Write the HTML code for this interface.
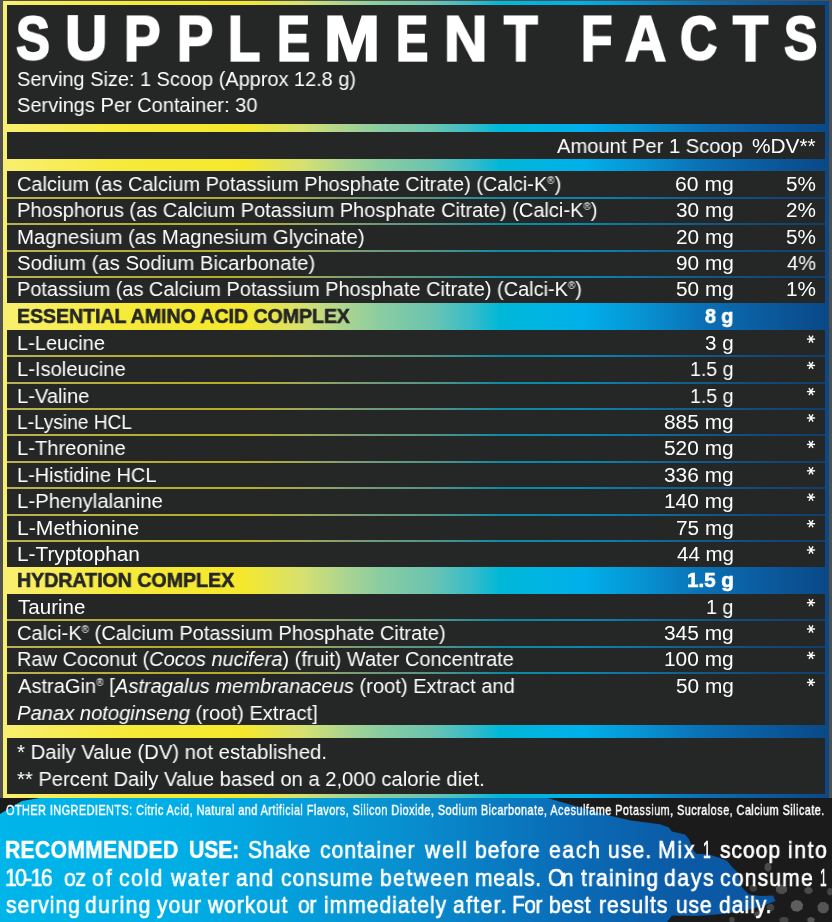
<!DOCTYPE html>
<html><head><meta charset="utf-8"><style>
html,body{margin:0;padding:0;width:832px;height:922px;overflow:hidden;background:#505050;}
body{position:relative;font-family:"Liberation Sans", sans-serif;}
.frame{position:absolute;left:3px;top:1px;width:826px;height:797px;background:linear-gradient(90deg,#f8ef70 0px,#f6ea3a 120px,#f5e82c 240px,#d6e070 300px,#a8d492 345px,#88cca2 380px,#6cc4b0 428px,#38bcc8 468px,#00b8d8 498px,#00b0ea 580px,#0792d2 640px,#0a70b5 700px,#0b5b9f 760px,#0a4886 826px);}
.c{position:absolute;background:#252626;}
.ln{position:absolute;left:7px;width:818px;height:2px;background:rgba(37,38,38,0.3);}
.t{position:absolute;white-space:nowrap;transform-origin:0 0;line-height:normal;will-change:transform;}
sup{font-size:0.5em;vertical-align:0.7em;line-height:0}
.bot{position:absolute;left:0;top:798px;width:832px;height:124px;}
</style></head><body>
<svg class=bot width="832" height="124" viewBox="0 798 832 124">
<defs>
<linearGradient id="bg" gradientUnits="userSpaceOnUse" x1="0" y1="0" x2="832" y2="0">
<stop offset="0" stop-color="#00b5ea"/><stop offset="0.216" stop-color="#00aee6"/><stop offset="0.48" stop-color="#0890d0"/><stop offset="0.673" stop-color="#0a6db8"/><stop offset="0.817" stop-color="#0b5aa5"/><stop offset="1" stop-color="#0b52a0"/>
</linearGradient>
</defs>
<rect x="0" y="798" width="832" height="124" fill="#1c1b1b"/>
<g><polygon fill="#4a4a4a" points="771.1,869.6 768.9,871.7 766.1,871.1 764.5,868.3 764.9,864.8 767.1,862.7 769.9,863.3 771.5,866.1"/><polygon fill="#4d4d4d" points="786.9,891.4 783.5,893.9 778.9,893.7 775.8,890.9 776.1,887.0 779.5,884.5 784.1,884.7 787.2,887.5"/><polygon fill="#5e5e5e" points="802.3,909.0 798.2,911.7 793.3,910.9 790.5,907.1 791.3,902.6 795.4,899.9 800.3,900.7 803.1,904.5"/><polygon fill="#555555" points="828.9,909.4 826.0,912.9 821.4,913.3 817.9,910.4 817.5,905.8 820.4,902.3 825.0,901.9 828.5,904.8"/><polygon fill="#4a4a4a" points="812.2,892.5 809.3,893.9 806.0,893.4 804.1,891.1 804.8,888.5 807.7,887.1 811.0,887.6 812.9,889.9"/><polygon fill="#444444" points="774.0,909.5 771.6,911.4 768.6,911.1 766.7,908.7 767.0,905.7 769.4,903.8 772.4,904.1 774.3,906.5"/><polygon fill="#444444" points="788.6,921.1 785.9,922.7 782.0,922.7 779.4,921.0 779.4,918.7 782.1,917.1 786.0,917.1 788.6,918.8"/><polygon fill="#555555" points="814.4,921.5 811.9,922.8 808.9,922.4 807.1,920.6 807.6,918.3 810.1,917.0 813.1,917.4 814.9,919.2"/><polygon fill="#3c3c3c" points="756.8,889.9 754.5,891.8 751.4,891.5 749.5,889.2 749.8,886.1 752.1,884.2 755.2,884.5 757.1,886.8"/><polygon fill="#444444" points="832.7,893.4 831.0,895.5 828.7,895.3 827.2,893.1 827.3,890.0 829.0,887.9 831.3,888.1 832.8,890.3"/><polygon fill="#444444" points="734.8,920.7 733.3,922.4 731.0,922.5 729.3,921.0 729.2,918.7 730.7,917.0 733.0,916.9 734.7,918.4"/><polygon fill="#4a4a4a" points="760.9,915.7 759.2,917.7 756.5,917.9 754.5,916.2 754.3,913.5 756.0,911.5 758.7,911.3 760.7,913.0"/></g>
<path fill="url(#bg)" d="M40 798 L546 797.6 L575 806 L609 815.6 L631 820.4 L660 824.2 L668.4 827.2 L672 831.4 L685 834.4 L689 839.2 L692.5 848.8 L696 853.7 L708 854.3 L720 857.9 L727.3 860.9 L732 866.9 L737 871.7 L741.7 887.3 L749 894.5 L760 896 L773 895.5 L775.5 901 L762.7 906 L742.3 911 L722 914 L696.4 916 L672 915.5 L667 922 L0 922 L0 814 L22 801 Z"/>
</svg>
<div class=frame></div>
<div class=c style='left:7px;top:5.00px;width:818px;height:119.00px'></div><div class=c style='left:7px;top:132.00px;width:818px;height:27.00px'></div><div class=c style='left:7px;top:171.00px;width:818px;height:26.00px'></div><div class=c style='left:7px;top:199.00px;width:818px;height:24.00px'></div><div class=c style='left:7px;top:225.00px;width:818px;height:25.00px'></div><div class=c style='left:7px;top:252.00px;width:818px;height:24.00px'></div><div class=c style='left:7px;top:278.00px;width:818px;height:25.00px'></div><div class=c style='left:7px;top:330.00px;width:818px;height:25.00px'></div><div class=c style='left:7px;top:357.00px;width:818px;height:25.00px'></div><div class=c style='left:7px;top:384.00px;width:818px;height:24.00px'></div><div class=c style='left:7px;top:410.00px;width:818px;height:24.00px'></div><div class=c style='left:7px;top:436.00px;width:818px;height:25.00px'></div><div class=c style='left:7px;top:463.00px;width:818px;height:24.00px'></div><div class=c style='left:7px;top:489.00px;width:818px;height:25.00px'></div><div class=c style='left:7px;top:516.00px;width:818px;height:24.00px'></div><div class=c style='left:7px;top:542.00px;width:818px;height:25.00px'></div><div class=c style='left:7px;top:594.00px;width:818px;height:25.00px'></div><div class=c style='left:7px;top:621.00px;width:818px;height:25.00px'></div><div class=c style='left:7px;top:648.00px;width:818px;height:24.00px'></div><div class=c style='left:7px;top:674.00px;width:818px;height:51.00px'></div><div class=c style='left:7px;top:738.00px;width:818px;height:56.00px'></div>
<div class=ln style='top:197px'></div><div class=ln style='top:223px'></div><div class=ln style='top:250px'></div><div class=ln style='top:276px'></div><div class=ln style='top:355px'></div><div class=ln style='top:382px'></div><div class=ln style='top:408px'></div><div class=ln style='top:434px'></div><div class=ln style='top:461px'></div><div class=ln style='top:487px'></div><div class=ln style='top:514px'></div><div class=ln style='top:540px'></div><div class=ln style='top:619px'></div><div class=ln style='top:646px'></div><div class=ln style='top:672px'></div>
<div class=t style='left:16.63px;top:67.14px;font:normal normal 20.5px "Liberation Sans", sans-serif;color:#fff;transform:scaleX(0.9723);'>Serving Size: 1 Scoop (Approx 12.8 g)</div><div class=t style='left:16.62px;top:93.14px;font:normal normal 20.5px "Liberation Sans", sans-serif;color:#fff;transform:scaleX(0.9770);'>Servings Per Container: 30</div><div class=t style='left:556.80px;top:133.84px;font:normal normal 20.5px "Liberation Sans", sans-serif;color:#fff;transform:scaleX(0.9824);'>Amount Per 1 Scoop</div><div class=t style='left:752.38px;top:133.84px;font:normal normal 20.5px "Liberation Sans", sans-serif;color:#fff;transform:scaleX(1.0164);'>%DV**</div><div class=t style='left:16.63px;top:172.24px;font:normal normal 20.5px "Liberation Sans", sans-serif;color:#fff;transform:scaleX(0.9736);'>Calcium (as Calcium Potassium Phosphate Citrate) (Calci-K<sup>®</sup>)</div><div class=t style='left:674.57px;top:172.24px;font:normal normal 20.5px "Liberation Sans", sans-serif;color:#fff;transform:scaleX(1.0327);'>60 mg</div><div class=t style='left:785.99px;top:172.24px;font:normal normal 20.5px "Liberation Sans", sans-serif;color:#fff;transform:scaleX(1.0107);'>5%</div><div class=t style='left:16.62px;top:198.44px;font:normal normal 20.5px "Liberation Sans", sans-serif;color:#fff;transform:scaleX(0.9767);'>Phosphorus (as Calcium Potassium Phosphate Citrate) (Calci-K<sup>®</sup>)</div><div class=t style='left:675.59px;top:198.44px;font:normal normal 20.5px "Liberation Sans", sans-serif;color:#fff;transform:scaleX(1.0145);'>30 mg</div><div class=t style='left:785.99px;top:198.44px;font:normal normal 20.5px "Liberation Sans", sans-serif;color:#fff;transform:scaleX(1.0107);'>2%</div><div class=t style='left:16.61px;top:224.74px;font:normal normal 20.5px "Liberation Sans", sans-serif;color:#fff;transform:scaleX(0.9937);'>Magnesium (as Magnesium Glycinate)</div><div class=t style='left:675.59px;top:224.74px;font:normal normal 20.5px "Liberation Sans", sans-serif;color:#fff;transform:scaleX(1.0145);'>20 mg</div><div class=t style='left:785.99px;top:224.74px;font:normal normal 20.5px "Liberation Sans", sans-serif;color:#fff;transform:scaleX(1.0107);'>5%</div><div class=t style='left:16.61px;top:251.14px;font:normal normal 20.5px "Liberation Sans", sans-serif;color:#fff;transform:scaleX(0.9913);'>Sodium (as Sodium Bicarbonate)</div><div class=t style='left:675.59px;top:251.14px;font:normal normal 20.5px "Liberation Sans", sans-serif;color:#fff;transform:scaleX(1.0145);'>90 mg</div><div class=t style='left:787.00px;top:251.14px;font:normal normal 20.5px "Liberation Sans", sans-serif;color:#fff;transform:scaleX(0.9759);'>4%</div><div class=t style='left:16.63px;top:277.44px;font:normal normal 20.5px "Liberation Sans", sans-serif;color:#fff;transform:scaleX(0.9730);'>Potassium (as Calcium Potassium Phosphate Citrate) (Calci-K<sup>®</sup>)</div><div class=t style='left:675.59px;top:277.44px;font:normal normal 20.5px "Liberation Sans", sans-serif;color:#fff;transform:scaleX(1.0145);'>50 mg</div><div class=t style='left:785.99px;top:277.44px;font:normal normal 20.5px "Liberation Sans", sans-serif;color:#fff;transform:scaleX(1.0107);'>1%</div><div class=t style='left:16.95px;top:304.24px;font:normal bold 20.5px "Liberation Sans", sans-serif;color:#252626;-webkit-text-stroke:0.6px #252626;transform:scaleX(0.9510);'>ESSENTIAL AMINO ACID COMPLEX</div><div class=t style='left:704.80px;top:304.24px;font:normal bold 20.5px "Liberation Sans", sans-serif;color:#fff;-webkit-text-stroke:0.6px #fff;transform:scaleX(0.9586);'>8 g</div><div class=t style='left:16.62px;top:331.04px;font:normal normal 20.5px "Liberation Sans", sans-serif;color:#fff;transform:scaleX(0.9761);'>L-Leucine</div><div class=t style='left:705.30px;top:331.04px;font:normal normal 20.5px "Liberation Sans", sans-serif;color:#fff;transform:scaleX(1.0038);'>3 g</div><div class=t style='left:16.62px;top:357.34px;font:normal normal 20.5px "Liberation Sans", sans-serif;color:#fff;transform:scaleX(0.9826);'>L-Isoleucine</div><div class=t style='left:690.45px;top:357.34px;font:normal normal 20.5px "Liberation Sans", sans-serif;color:#fff;transform:scaleX(0.9535);'>1.5 g</div><div class=t style='left:16.62px;top:383.54px;font:normal normal 20.5px "Liberation Sans", sans-serif;color:#fff;transform:scaleX(0.9819);'>L-Valine</div><div class=t style='left:690.45px;top:383.54px;font:normal normal 20.5px "Liberation Sans", sans-serif;color:#fff;transform:scaleX(0.9535);'>1.5 g</div><div class=t style='left:16.67px;top:409.94px;font:normal normal 20.5px "Liberation Sans", sans-serif;color:#fff;transform:scaleX(0.9311);'>L-Lysine HCL</div><div class=t style='left:664.18px;top:409.94px;font:normal normal 20.5px "Liberation Sans", sans-serif;color:#fff;transform:scaleX(1.0182);'>885 mg</div><div class=t style='left:16.62px;top:436.34px;font:normal normal 20.5px "Liberation Sans", sans-serif;color:#fff;transform:scaleX(0.9826);'>L-Threonine</div><div class=t style='left:664.18px;top:436.34px;font:normal normal 20.5px "Liberation Sans", sans-serif;color:#fff;transform:scaleX(1.0182);'>520 mg</div><div class=t style='left:16.63px;top:462.74px;font:normal normal 20.5px "Liberation Sans", sans-serif;color:#fff;transform:scaleX(0.9711);'>L-Histidine HCL</div><div class=t style='left:664.18px;top:462.74px;font:normal normal 20.5px "Liberation Sans", sans-serif;color:#fff;transform:scaleX(1.0182);'>336 mg</div><div class=t style='left:16.61px;top:489.14px;font:normal normal 20.5px "Liberation Sans", sans-serif;color:#fff;transform:scaleX(0.9924);'>L-Phenylalanine</div><div class=t style='left:664.18px;top:489.14px;font:normal normal 20.5px "Liberation Sans", sans-serif;color:#fff;transform:scaleX(1.0182);'>140 mg</div><div class=t style='left:16.57px;top:515.64px;font:normal normal 20.5px "Liberation Sans", sans-serif;color:#fff;transform:scaleX(1.0316);'>L-Methionine</div><div class=t style='left:675.59px;top:515.64px;font:normal normal 20.5px "Liberation Sans", sans-serif;color:#fff;transform:scaleX(1.0145);'>75 mg</div><div class=t style='left:16.59px;top:541.94px;font:normal normal 20.5px "Liberation Sans", sans-serif;color:#fff;transform:scaleX(1.0143);'>L-Tryptophan</div><div class=t style='left:676.60px;top:541.94px;font:normal normal 20.5px "Liberation Sans", sans-serif;color:#fff;transform:scaleX(0.9964);'>44 mg</div><div class=t style='left:16.94px;top:568.34px;font:normal bold 20.5px "Liberation Sans", sans-serif;color:#252626;-webkit-text-stroke:0.6px #252626;transform:scaleX(0.9551);'>HYDRATION COMPLEX</div><div class=t style='left:686.50px;top:568.34px;font:normal bold 20.5px "Liberation Sans", sans-serif;color:#fff;-webkit-text-stroke:0.6px #fff;transform:scaleX(1.0022);'>1.5 g</div><div class=t style='left:17.60px;top:594.64px;font:normal normal 20.5px "Liberation Sans", sans-serif;color:#fff;transform:scaleX(1.0030);'>Taurine</div><div class=t style='left:706.33px;top:594.64px;font:normal normal 20.5px "Liberation Sans", sans-serif;color:#fff;transform:scaleX(0.9654);'>1 g</div><div class=t style='left:16.62px;top:620.94px;font:normal normal 20.5px "Liberation Sans", sans-serif;color:#fff;transform:scaleX(0.9780);'>Calci-K<sup>®</sup> (Calcium Potassium Phosphate Citrate)</div><div class=t style='left:664.18px;top:620.94px;font:normal normal 20.5px "Liberation Sans", sans-serif;color:#fff;transform:scaleX(1.0182);'>345 mg</div><div class=t style='left:16.63px;top:647.34px;font:normal normal 20.5px "Liberation Sans", sans-serif;color:#fff;transform:scaleX(0.9748);'>Raw Coconut (<i>Cocos nucifera</i>) (fruit) Water Concentrate</div><div class=t style='left:664.18px;top:647.34px;font:normal normal 20.5px "Liberation Sans", sans-serif;color:#fff;transform:scaleX(1.0182);'>100 mg</div><div class=t style='left:17.60px;top:674.34px;font:normal normal 20.5px "Liberation Sans", sans-serif;color:#fff;transform:scaleX(0.9806);'>AstraGin<sup>®</sup> [<i>Astragalus membranaceus</i> (root) Extract and</div><div class=t style='left:675.59px;top:674.34px;font:normal normal 20.5px "Liberation Sans", sans-serif;color:#fff;transform:scaleX(1.0145);'>50 mg</div><div class=t style='left:16.62px;top:701.14px;font:normal normal 20.5px "Liberation Sans", sans-serif;color:#fff;transform:scaleX(0.9848);'><i>Panax notoginseng</i> (root) Extract]</div><div class=t style='left:17.40px;top:740.14px;font:normal normal 20.5px "Liberation Sans", sans-serif;color:#fff;transform:scaleX(0.9907);'>* Daily Value (DV) not established.</div><div class=t style='left:17.40px;top:766.74px;font:normal normal 20.5px "Liberation Sans", sans-serif;color:#fff;transform:scaleX(0.9848);'>** Percent Daily Value based on a 2,000 calorie diet.</div><div class=t style='left:15.94px;top:2.06px;font:normal bold 67px "Liberation Sans", sans-serif;color:#fff;-webkit-text-stroke:2.2px #fff;transform:scale(0.7571,0.9240);'>S</div><div class=t style='left:64.87px;top:0.86px;font:normal bold 67px "Liberation Sans", sans-serif;color:#fff;-webkit-text-stroke:2.2px #fff;transform:scale(0.8767,0.9429);'>U</div><div class=t style='left:124.25px;top:0.56px;font:normal bold 67px "Liberation Sans", sans-serif;color:#fff;-webkit-text-stroke:2.2px #fff;transform:scale(0.8171,0.9625);'>P</div><div class=t style='left:177.08px;top:0.56px;font:normal bold 67px "Liberation Sans", sans-serif;color:#fff;-webkit-text-stroke:2.2px #fff;transform:scale(0.8073,0.9625);'>P</div><div class=t style='left:228.23px;top:0.56px;font:normal bold 67px "Liberation Sans", sans-serif;color:#fff;-webkit-text-stroke:2.2px #fff;transform:scale(0.7892,0.9625);'>L</div><div class=t style='left:276.59px;top:0.56px;font:normal bold 67px "Liberation Sans", sans-serif;color:#fff;-webkit-text-stroke:2.2px #fff;transform:scale(0.7375,0.9625);'>E</div><div class=t style='left:323.69px;top:0.56px;font:normal bold 67px "Liberation Sans", sans-serif;color:#fff;-webkit-text-stroke:2.2px #fff;transform:scale(1.0040,0.9625);'>M</div><div class=t style='left:395.63px;top:0.56px;font:normal bold 67px "Liberation Sans", sans-serif;color:#fff;-webkit-text-stroke:2.2px #fff;transform:scale(0.7225,0.9625);'>E</div><div class=t style='left:444.01px;top:0.56px;font:normal bold 67px "Liberation Sans", sans-serif;color:#fff;-webkit-text-stroke:2.2px #fff;transform:scale(0.8976,0.9625);'>N</div><div class=t style='left:503.72px;top:0.56px;font:normal bold 67px "Liberation Sans", sans-serif;color:#fff;-webkit-text-stroke:2.2px #fff;transform:scale(0.8209,0.9625);'>T</div><div class=t style='left:581.30px;top:0.56px;font:normal bold 67px "Liberation Sans", sans-serif;color:#fff;-webkit-text-stroke:2.2px #fff;transform:scale(0.7676,0.9625);'>F</div><div class=t style='left:624.60px;top:0.56px;font:normal bold 67px "Liberation Sans", sans-serif;color:#fff;-webkit-text-stroke:2.2px #fff;transform:scale(0.8500,0.9625);'>A</div><div class=t style='left:679.83px;top:2.06px;font:normal bold 67px "Liberation Sans", sans-serif;color:#fff;-webkit-text-stroke:2.2px #fff;transform:scale(0.7702,0.9240);'>C</div><div class=t style='left:732.96px;top:0.56px;font:normal bold 67px "Liberation Sans", sans-serif;color:#fff;-webkit-text-stroke:2.2px #fff;transform:scale(0.8581,0.9625);'>T</div><div class=t style='left:783.55px;top:2.06px;font:normal bold 67px "Liberation Sans", sans-serif;color:#fff;-webkit-text-stroke:2.2px #fff;transform:scale(0.7476,0.9240);'>S</div><div class=t style='left:5.90px;top:801.86px;font:normal normal 14.5px "Liberation Sans", sans-serif;color:#fff;-webkit-text-stroke:0.45px #fff;letter-spacing:0.612px;transform:scaleX(0.7500);'>OTHER INGREDIENTS: Citric Acid, Natural and Artificial Flavors, Silicon Dioxide, Sodium Bicarbonate, Acesulfame Potassium, Sucralose, Calcium Silicate.</div><div class=t style='left:4.94px;top:836.06px;font:normal bold 24.5px "Liberation Sans", sans-serif;color:#fff;-webkit-text-stroke:0.5px #fff;letter-spacing:0.400px;transform:scaleX(0.8600);'>RECOMMENDED</div><div class=t style='left:188.94px;top:836.06px;font:normal bold 24.5px "Liberation Sans", sans-serif;color:#fff;-webkit-text-stroke:0.5px #fff;letter-spacing:-0.023px;transform:scaleX(0.8600);'>USE:</div><div class=t style='left:248.14px;top:836.06px;font:normal normal 24.5px "Liberation Sans", sans-serif;color:#fff;-webkit-text-stroke:0.7px #fff;letter-spacing:0.733px;transform:scaleX(0.8600);'>Shake</div><div class=t style='left:319.74px;top:836.06px;font:normal normal 24.5px "Liberation Sans", sans-serif;color:#fff;-webkit-text-stroke:0.7px #fff;letter-spacing:1.134px;transform:scaleX(0.8600);'>container</div><div class=t style='left:424.50px;top:836.06px;font:normal normal 24.5px "Liberation Sans", sans-serif;color:#fff;-webkit-text-stroke:0.7px #fff;letter-spacing:2.186px;transform:scaleX(0.8600);'>well</div><div class=t style='left:475.14px;top:836.06px;font:normal normal 24.5px "Liberation Sans", sans-serif;color:#fff;-webkit-text-stroke:0.7px #fff;letter-spacing:1.144px;transform:scaleX(0.8600);'>before</div><div class=t style='left:549.14px;top:836.06px;font:normal normal 24.5px "Liberation Sans", sans-serif;color:#fff;-webkit-text-stroke:0.7px #fff;letter-spacing:1.992px;transform:scaleX(0.8600);'>each</div><div class=t style='left:607.84px;top:836.06px;font:normal normal 24.5px "Liberation Sans", sans-serif;color:#fff;-webkit-text-stroke:0.7px #fff;letter-spacing:1.341px;transform:scaleX(0.8600);'>use.</div><div class=t style='left:657.84px;top:836.06px;font:normal normal 24.5px "Liberation Sans", sans-serif;color:#fff;-webkit-text-stroke:0.7px #fff;letter-spacing:2.140px;transform:scaleX(0.8600);'>Mix</div><div class=t style='left:703.13px;top:836.06px;font:normal normal 24.5px "Liberation Sans", sans-serif;color:#fff;-webkit-text-stroke:0.7px #fff;transform:scaleX(0.5667);'>1</div><div class=t style='left:719.90px;top:836.06px;font:normal normal 24.5px "Liberation Sans", sans-serif;color:#fff;-webkit-text-stroke:0.7px #fff;letter-spacing:1.105px;transform:scaleX(0.8600);'>scoop</div><div class=t style='left:788.14px;top:836.06px;font:normal normal 24.5px "Liberation Sans", sans-serif;color:#fff;-webkit-text-stroke:0.7px #fff;letter-spacing:1.868px;transform:scaleX(0.8600);'>into</div><div class=t style='left:4.94px;top:863.96px;font:normal normal 24.5px "Liberation Sans", sans-serif;color:#fff;-webkit-text-stroke:0.7px #fff;letter-spacing:-1.849px;transform:scaleX(0.8600);'>10-16</div><div class=t style='left:63.50px;top:863.96px;font:normal normal 24.5px "Liberation Sans", sans-serif;color:#fff;-webkit-text-stroke:0.7px #fff;letter-spacing:-0.465px;transform:scaleX(0.8600);'>oz</div><div class=t style='left:92.30px;top:863.96px;font:normal normal 24.5px "Liberation Sans", sans-serif;color:#fff;-webkit-text-stroke:0.7px #fff;letter-spacing:2.488px;transform:scaleX(0.8600);'>of</div><div class=t style='left:119.34px;top:863.96px;font:normal normal 24.5px "Liberation Sans", sans-serif;color:#fff;-webkit-text-stroke:0.7px #fff;letter-spacing:1.829px;transform:scaleX(0.8600);'>cold</div><div class=t style='left:170.60px;top:863.96px;font:normal normal 24.5px "Liberation Sans", sans-serif;color:#fff;-webkit-text-stroke:0.7px #fff;letter-spacing:1.904px;transform:scaleX(0.8600);'>water</div><div class=t style='left:236.04px;top:863.96px;font:normal normal 24.5px "Liberation Sans", sans-serif;color:#fff;-webkit-text-stroke:0.7px #fff;letter-spacing:1.198px;transform:scaleX(0.8600);'>and</div><div class=t style='left:280.74px;top:863.96px;font:normal normal 24.5px "Liberation Sans", sans-serif;color:#fff;-webkit-text-stroke:0.7px #fff;letter-spacing:1.186px;transform:scaleX(0.8600);'>consume</div><div class=t style='left:379.94px;top:863.96px;font:normal normal 24.5px "Liberation Sans", sans-serif;color:#fff;-webkit-text-stroke:0.7px #fff;letter-spacing:1.694px;transform:scaleX(0.8600);'>between</div><div class=t style='left:475.14px;top:863.96px;font:normal normal 24.5px "Liberation Sans", sans-serif;color:#fff;-webkit-text-stroke:0.7px #fff;letter-spacing:0.944px;transform:scaleX(0.8600);'>meals.</div><div class=t style='left:548.14px;top:863.96px;font:normal normal 24.5px "Liberation Sans", sans-serif;color:#fff;-webkit-text-stroke:0.7px #fff;letter-spacing:-3.093px;transform:scaleX(0.8600);'>On</div><div class=t style='left:580.80px;top:863.96px;font:normal normal 24.5px "Liberation Sans", sans-serif;color:#fff;-webkit-text-stroke:0.7px #fff;letter-spacing:1.322px;transform:scaleX(0.8600);'>training</div><div class=t style='left:663.50px;top:863.96px;font:normal normal 24.5px "Liberation Sans", sans-serif;color:#fff;-webkit-text-stroke:0.7px #fff;letter-spacing:1.992px;transform:scaleX(0.8600);'>days</div><div class=t style='left:719.64px;top:863.96px;font:normal normal 24.5px "Liberation Sans", sans-serif;color:#fff;-webkit-text-stroke:0.7px #fff;letter-spacing:1.399px;transform:scaleX(0.8600);'>consume</div><div class=t style='left:820.11px;top:863.96px;font:normal normal 24.5px "Liberation Sans", sans-serif;color:#fff;-webkit-text-stroke:0.7px #fff;transform:scaleX(0.4917);'>1</div><div class=t style='left:5.80px;top:891.36px;font:normal normal 24.5px "Liberation Sans", sans-serif;color:#fff;-webkit-text-stroke:0.7px #fff;letter-spacing:1.147px;transform:scaleX(0.8600);'>serving</div><div class=t style='left:84.60px;top:891.36px;font:normal normal 24.5px "Liberation Sans", sans-serif;color:#fff;-webkit-text-stroke:0.7px #fff;letter-spacing:1.577px;transform:scaleX(0.8600);'>during</div><div class=t style='left:156.70px;top:891.36px;font:normal normal 24.5px "Liberation Sans", sans-serif;color:#fff;-webkit-text-stroke:0.7px #fff;letter-spacing:1.171px;transform:scaleX(0.8600);'>your</div><div class=t style='left:207.70px;top:891.36px;font:normal normal 24.5px "Liberation Sans", sans-serif;color:#fff;-webkit-text-stroke:0.7px #fff;letter-spacing:1.074px;transform:scaleX(0.8600);'>workout</div><div class=t style='left:298.30px;top:891.36px;font:normal normal 24.5px "Liberation Sans", sans-serif;color:#fff;-webkit-text-stroke:0.7px #fff;letter-spacing:-0.256px;transform:scaleX(0.8600);'>or</div><div class=t style='left:324.14px;top:891.36px;font:normal normal 24.5px "Liberation Sans", sans-serif;color:#fff;-webkit-text-stroke:0.7px #fff;letter-spacing:1.140px;transform:scaleX(0.8600);'>immediately</div><div class=t style='left:453.44px;top:891.36px;font:normal normal 24.5px "Liberation Sans", sans-serif;color:#fff;-webkit-text-stroke:0.7px #fff;letter-spacing:1.577px;transform:scaleX(0.8600);'>after.</div><div class=t style='left:511.64px;top:891.36px;font:normal normal 24.5px "Liberation Sans", sans-serif;color:#fff;-webkit-text-stroke:0.7px #fff;letter-spacing:-0.674px;transform:scaleX(0.8600);'>For</div><div class=t style='left:549.14px;top:891.36px;font:normal normal 24.5px "Liberation Sans", sans-serif;color:#fff;-webkit-text-stroke:0.7px #fff;letter-spacing:0.674px;transform:scaleX(0.8600);'>best</div><div class=t style='left:599.44px;top:891.36px;font:normal normal 24.5px "Liberation Sans", sans-serif;color:#fff;-webkit-text-stroke:0.7px #fff;letter-spacing:1.209px;transform:scaleX(0.8600);'>results</div><div class=t style='left:675.94px;top:891.36px;font:normal normal 24.5px "Liberation Sans", sans-serif;color:#fff;-webkit-text-stroke:0.7px #fff;letter-spacing:0.884px;transform:scaleX(0.8600);'>use</div><div class=t style='left:719.00px;top:891.36px;font:normal normal 24.5px "Liberation Sans", sans-serif;color:#fff;-webkit-text-stroke:0.7px #fff;letter-spacing:1.153px;transform:scaleX(0.8600);'>daily.</div>
<svg style="position:absolute;left:0;top:0" width="832" height="922"><line x1="806.90" y1="339.10" x2="815.10" y2="339.10" stroke="#fff" stroke-width="1.4"/><line x1="808.95" y1="335.55" x2="813.05" y2="342.65" stroke="#fff" stroke-width="1.4"/><line x1="813.05" y1="335.55" x2="808.95" y2="342.65" stroke="#fff" stroke-width="1.4"/><line x1="806.90" y1="365.40" x2="815.10" y2="365.40" stroke="#fff" stroke-width="1.4"/><line x1="808.95" y1="361.85" x2="813.05" y2="368.95" stroke="#fff" stroke-width="1.4"/><line x1="813.05" y1="361.85" x2="808.95" y2="368.95" stroke="#fff" stroke-width="1.4"/><line x1="806.90" y1="391.60" x2="815.10" y2="391.60" stroke="#fff" stroke-width="1.4"/><line x1="808.95" y1="388.05" x2="813.05" y2="395.15" stroke="#fff" stroke-width="1.4"/><line x1="813.05" y1="388.05" x2="808.95" y2="395.15" stroke="#fff" stroke-width="1.4"/><line x1="806.90" y1="418.00" x2="815.10" y2="418.00" stroke="#fff" stroke-width="1.4"/><line x1="808.95" y1="414.45" x2="813.05" y2="421.55" stroke="#fff" stroke-width="1.4"/><line x1="813.05" y1="414.45" x2="808.95" y2="421.55" stroke="#fff" stroke-width="1.4"/><line x1="806.90" y1="444.40" x2="815.10" y2="444.40" stroke="#fff" stroke-width="1.4"/><line x1="808.95" y1="440.85" x2="813.05" y2="447.95" stroke="#fff" stroke-width="1.4"/><line x1="813.05" y1="440.85" x2="808.95" y2="447.95" stroke="#fff" stroke-width="1.4"/><line x1="806.90" y1="470.80" x2="815.10" y2="470.80" stroke="#fff" stroke-width="1.4"/><line x1="808.95" y1="467.25" x2="813.05" y2="474.35" stroke="#fff" stroke-width="1.4"/><line x1="813.05" y1="467.25" x2="808.95" y2="474.35" stroke="#fff" stroke-width="1.4"/><line x1="806.90" y1="497.20" x2="815.10" y2="497.20" stroke="#fff" stroke-width="1.4"/><line x1="808.95" y1="493.65" x2="813.05" y2="500.75" stroke="#fff" stroke-width="1.4"/><line x1="813.05" y1="493.65" x2="808.95" y2="500.75" stroke="#fff" stroke-width="1.4"/><line x1="806.90" y1="523.70" x2="815.10" y2="523.70" stroke="#fff" stroke-width="1.4"/><line x1="808.95" y1="520.15" x2="813.05" y2="527.25" stroke="#fff" stroke-width="1.4"/><line x1="813.05" y1="520.15" x2="808.95" y2="527.25" stroke="#fff" stroke-width="1.4"/><line x1="806.90" y1="550.00" x2="815.10" y2="550.00" stroke="#fff" stroke-width="1.4"/><line x1="808.95" y1="546.45" x2="813.05" y2="553.55" stroke="#fff" stroke-width="1.4"/><line x1="813.05" y1="546.45" x2="808.95" y2="553.55" stroke="#fff" stroke-width="1.4"/><line x1="806.90" y1="602.70" x2="815.10" y2="602.70" stroke="#fff" stroke-width="1.4"/><line x1="808.95" y1="599.15" x2="813.05" y2="606.25" stroke="#fff" stroke-width="1.4"/><line x1="813.05" y1="599.15" x2="808.95" y2="606.25" stroke="#fff" stroke-width="1.4"/><line x1="806.90" y1="629.00" x2="815.10" y2="629.00" stroke="#fff" stroke-width="1.4"/><line x1="808.95" y1="625.45" x2="813.05" y2="632.55" stroke="#fff" stroke-width="1.4"/><line x1="813.05" y1="625.45" x2="808.95" y2="632.55" stroke="#fff" stroke-width="1.4"/><line x1="806.90" y1="655.40" x2="815.10" y2="655.40" stroke="#fff" stroke-width="1.4"/><line x1="808.95" y1="651.85" x2="813.05" y2="658.95" stroke="#fff" stroke-width="1.4"/><line x1="813.05" y1="651.85" x2="808.95" y2="658.95" stroke="#fff" stroke-width="1.4"/><line x1="806.90" y1="682.40" x2="815.10" y2="682.40" stroke="#fff" stroke-width="1.4"/><line x1="808.95" y1="678.85" x2="813.05" y2="685.95" stroke="#fff" stroke-width="1.4"/><line x1="813.05" y1="678.85" x2="808.95" y2="685.95" stroke="#fff" stroke-width="1.4"/></svg>
</body></html>
